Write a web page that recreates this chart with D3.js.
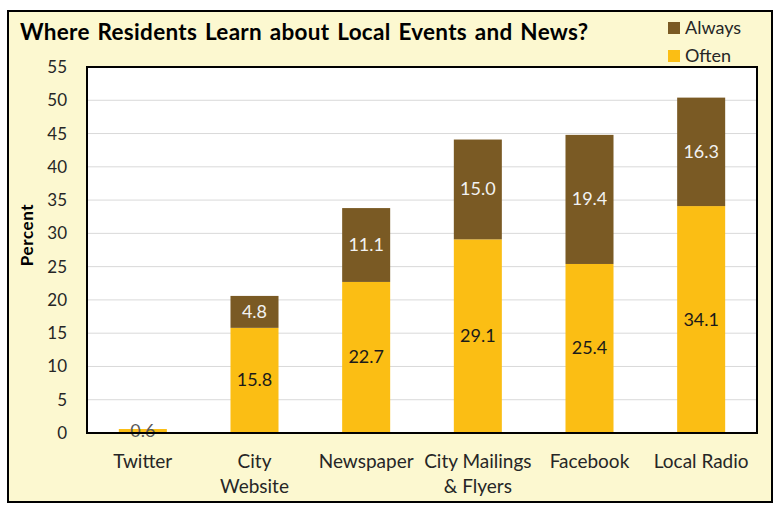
<!DOCTYPE html>
<html>
<head>
<meta charset="utf-8">
<script src="https://cdn.jsdelivr.net/npm/d3@7"></script>
<style>
  body { margin: 0; background: #fff; }
  text { font-family: Lato, "Open Sans", sans-serif; }
</style>
</head>
<body>
<script>
const categories = ["Twitter", "City\nWebsite", "Newspaper", "City Mailings\n& Flyers", "Facebook", "Local Radio"];
const often = [0.6, 15.8, 22.7, 29.1, 25.4, 34.1];
const always = [0, 4.8, 11.1, 15.0, 19.4, 16.3];
const yTicks = [0, 5, 10, 15, 20, 25, 30, 35, 40, 45, 50, 55];

const W = 775, H = 510;
const m = { left: 87, top: 67, right: 757, bottom: 433 };

const svg = d3.select("body").append("svg")
    .attr("width", W)
    .attr("height", H);

svg.append("rect")
    .attr("x", 8).attr("y", 11)
    .attr("width", 764).attr("height", 491)
    .attr("fill", "#fcf8d0")
    .attr("stroke", "#000")
    .attr("stroke-width", 2);

const x = d3.scaleBand()
    .domain(categories)
    .range([m.left, m.right])
    .paddingInner(0.57)
    .paddingOuter(0.285);

const y = d3.scaleLinear()
    .domain([0, 55])
    .range([m.bottom, m.top]);

svg.append("rect")
    .attr("x", m.left).attr("y", m.top)
    .attr("width", m.right - m.left).attr("height", m.bottom - m.top)
    .attr("fill", "#fff");

// gridlines
svg.append("g")
    .selectAll("line")
    .data(yTicks.filter(d => d > 0 && d < 55))
    .join("line")
    .attr("x1", m.left).attr("x2", m.right)
    .attr("y1", d => y(d)).attr("y2", d => y(d))
    .attr("stroke", "#d9d9d9")
    .attr("stroke-width", 1);

const rows = categories.map((c, i) => ({ c, often: often[i], always: always[i] }));

// often segments
svg.append("g")
    .selectAll("rect")
    .data(rows)
    .join("rect")
    .attr("x", d => x(d.c))
    .attr("width", x.bandwidth())
    .attr("y", d => y(d.often))
    .attr("height", d => y(0) - y(d.often))
    .attr("fill", "#fbbe14");

// always segments
svg.append("g")
    .selectAll("rect")
    .data(rows.filter(d => d.always > 0))
    .join("rect")
    .attr("x", d => x(d.c))
    .attr("width", x.bandwidth())
    .attr("y", d => y(d.often + d.always))
    .attr("height", d => y(d.often) - y(d.often + d.always))
    .attr("fill", "#7a5a24");

// value labels
const lab = svg.append("g").attr("font-size", 18).attr("text-anchor", "middle");
lab.selectAll("text.o")
    .data(rows)
    .join("text")
    .attr("class", "o")
    .attr("x", d => x(d.c) + x.bandwidth() / 2)
    .attr("y", d => (y(0) + y(d.often)) / 2 + 6)
    .attr("fill", d => d.often < 2 ? "#595959" : "#1a1a1a")
    .text(d => d.often.toFixed(1));
lab.selectAll("text.a")
    .data(rows.filter(d => d.always > 0))
    .join("text")
    .attr("class", "a")
    .attr("x", d => x(d.c) + x.bandwidth() / 2)
    .attr("y", d => (y(d.often) + y(d.often + d.always)) / 2 + 6)
    .attr("fill", "#f2f2f2")
    .text(d => d.always.toFixed(1));

// plot frame
svg.append("rect")
    .attr("x", m.left).attr("y", m.top)
    .attr("width", m.right - m.left).attr("height", m.bottom - m.top)
    .attr("fill", "none")
    .attr("stroke", "#000")
    .attr("stroke-width", 2);

// y axis labels
svg.append("g")
    .selectAll("text")
    .data(yTicks)
    .join("text")
    .attr("x", 67)
    .attr("y", d => y(d) + 6)
    .attr("text-anchor", "end")
    .attr("font-size", 17)
    .attr("fill", "#262626")
    .text(d => d);

// x axis labels
const xl = svg.append("g")
    .selectAll("text")
    .data(categories)
    .join("text")
    .attr("x", d => x(d) + x.bandwidth() / 2)
    .attr("y", 468)
    .attr("text-anchor", "middle")
    .attr("font-size", 19)
    .attr("fill", "#262626");
xl.selectAll("tspan")
    .data(d => d.split("\n").map((t, i) => ({ t, i, c: d })))
    .join("tspan")
    .attr("x", d => x(d.c) + x.bandwidth() / 2)
    .attr("dy", d => d.i === 0 ? 0 : 25)
    .text(d => d.t);

// y title
svg.append("text")
    .attr("transform", "translate(33,235) rotate(-90)")
    .attr("text-anchor", "middle")
    .attr("font-size", 17)
    .attr("font-weight", "bold")
    .attr("letter-spacing", 0.6)
    .attr("fill", "#000")
    .text("Percent");

// title
svg.append("text")
    .attr("x", 20).attr("y", 40)
    .attr("font-size", 22.5)
    .attr("font-weight", "bold")
    .attr("letter-spacing", 0.3)
    .attr("word-spacing", 2)
    .attr("fill", "#000")
    .text("Where Residents Learn about Local Events and News?");

// legend
const legend = [{ k: "Always", c: "#7a5a24" }, { k: "Often", c: "#fbbe14" }];
const lg = svg.append("g")
    .selectAll("g")
    .data(legend)
    .join("g")
    .attr("transform", (d, i) => `translate(668,${22 + i * 28})`);
lg.append("rect").attr("width", 12).attr("height", 12).attr("fill", d => d.c);
lg.append("text")
    .attr("x", 17).attr("y", 12)
    .attr("font-size", 18)
    .attr("fill", "#262626")
    .text(d => d.k);
</script>
</body>
</html>
